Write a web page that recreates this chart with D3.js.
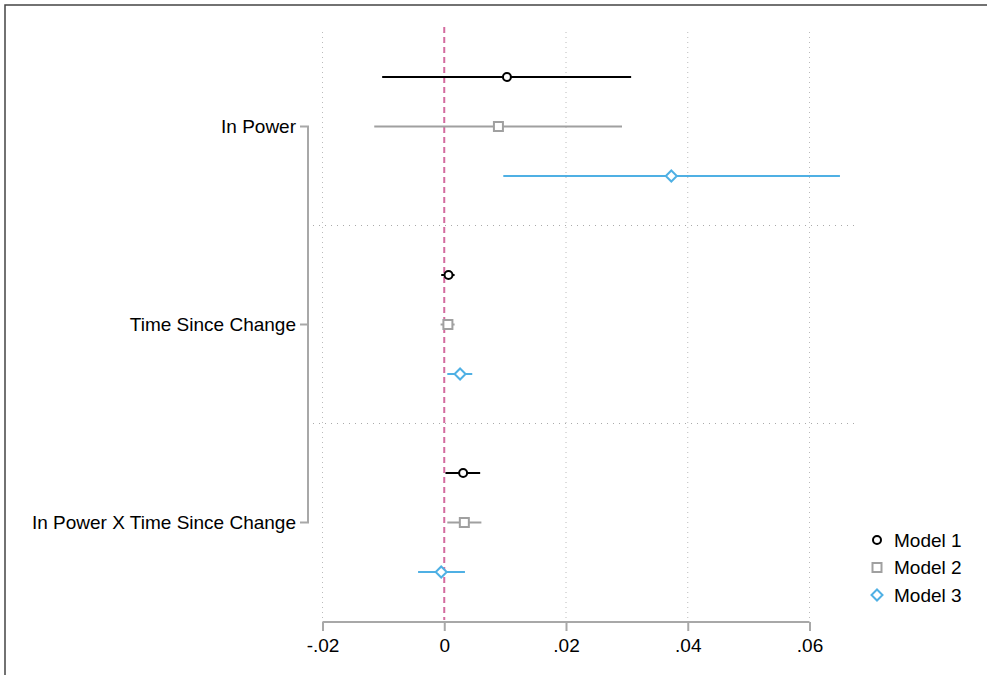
<!DOCTYPE html>
<html><head><meta charset="utf-8">
<script src="https://cdn.jsdelivr.net/npm/d3@7"></script>
<style>body{margin:0;background:#fff}svg{display:block;font-family:"Liberation Sans",Arial,sans-serif}</style>
</head><body><svg id="c" width="987" height="675"></svg>
<script>
const groups = ["In Power", "Time Since Change", "In Power X Time Since Change"];
const models = ["Model 1", "Model 2", "Model 3"];
const modelColors = ["#000000", "#a0a0a0", "#4fb0e4"];
const modelShapes = ["circle", "square", "diamond"];
// estimates [group][model]
const est = [[0.0103, 0.0089, 0.0373], [0.0007, 0.0006, 0.0026], [0.0031, 0.0033, -0.0005]];
const lo  = [[-0.0102, -0.0115, 0.0097], [-0.0005, -0.0006, 0.0005], [0.0002, 0.0005, -0.0043]];
const hi  = [[0.0307, 0.0292, 0.0650], [0.0017, 0.0017, 0.0046], [0.0059, 0.0061, 0.0034]];
const xTicks = [-0.02, 0, 0.02, 0.04, 0.06];
const xTickLabels = ["-.02", "0", ".02", ".04", ".06"];

const FS = 19;
const svg = d3.select("#c");
// partial frame (top & left)
svg.append("path").attr("d","M5,675V5H987").attr("fill","none").attr("stroke","#444").attr("stroke-width",1.5);

const x = d3.scaleLinear().domain([-0.02, 0.06]).range([322.5, 809.5]);
// 11 slots: 3 rows per group with an empty slot between groups
const slot = (gi, mi) => gi*4 + mi;
const y = d3.scalePoint().domain(d3.range(11)).range([77, 572]);

// vertical gridlines
svg.append("g").selectAll("line").data(xTicks).join("line")
  .attr("x1",d=>x(d)).attr("x2",d=>x(d)).attr("y1",32).attr("y2",620)
  .attr("stroke","#bbb").attr("stroke-width",1).attr("stroke-dasharray","1,4");
// horizontal separators
svg.append("g").selectAll("line").data([3,7]).join("line")
  .attr("x1",313).attr("x2",855)
  .attr("y1",d=>y(d)).attr("y2",d=>y(d))
  .attr("stroke","#aaa").attr("stroke-width",1).attr("stroke-dasharray","1,5");
// zero line
svg.append("line").attr("x1",x(0)).attr("x2",x(0)).attr("y1",27).attr("y2",620)
  .attr("stroke","#d36b9f").attr("stroke-width",2).attr("stroke-dasharray","6,4");

// x axis
const ax = svg.append("g").attr("transform","translate(0,622)")
  .call(d3.axisBottom(x).tickValues(xTicks).tickFormat((d,i)=>xTickLabels[i]).tickSize(9).tickPadding(8));
ax.select(".domain").attr("stroke","#a8a8a8").attr("stroke-width",2).attr("d",`M${x(-0.02)},0H${x(0.06)}`);
ax.selectAll(".tick line").attr("stroke","#a8a8a8").attr("stroke-width",2);
ax.selectAll(".tick text").attr("font-size",FS).attr("fill","#000").attr("font-family","Liberation Sans, Arial, sans-serif");

// bracket
const bx = 308;
const gy = groups.map((g,gi)=>y(slot(gi,1)));
svg.append("path").attr("d",`M300,${gy[0]}H${bx}V${gy[2]}H300M300,${gy[1]}H${bx}`)
  .attr("fill","none").attr("stroke","#a8a8a8").attr("stroke-width",2);
svg.append("g").selectAll("text").data(groups).join("text")
  .attr("x",296).attr("y",(d,i)=>gy[i]).attr("dy","0.36em").attr("text-anchor","end")
  .attr("font-size",FS).attr("fill","#000").text(d=>d);

function marker(sel, shape, color){
  if(shape==="circle") sel.append("circle").attr("r",4).attr("fill","#fff").attr("stroke",color).attr("stroke-width",2);
  else if(shape==="square") sel.append("rect").attr("x",-4.5).attr("y",-4.5).attr("width",9).attr("height",9).attr("fill","#fff").attr("stroke",color).attr("stroke-width",2);
  else sel.append("path").attr("d","M0,-5.5L5.5,0L0,5.5L-5.5,0Z").attr("fill","#fff").attr("stroke",color).attr("stroke-width",2);
}

groups.forEach((g,gi)=>models.forEach((m,mi)=>{
  const yy = y(slot(gi,mi));
  svg.append("line").attr("x1",x(lo[gi][mi])).attr("x2",x(hi[gi][mi])).attr("y1",yy).attr("y2",yy)
    .attr("stroke",modelColors[mi]).attr("stroke-width",2);
  const gm = svg.append("g").attr("transform",`translate(${x(est[gi][mi])},${yy})`);
  marker(gm, modelShapes[mi], modelColors[mi]);
}));

// legend
const lg = svg.append("g");
models.forEach((m,mi)=>{
  const ly = 540 + mi*27.5;
  const gm = lg.append("g").attr("transform",`translate(877,${ly})`);
  marker(gm, modelShapes[mi], modelColors[mi]);
  lg.append("text").attr("x",894).attr("y",ly).attr("dy","0.36em").attr("font-size",FS).attr("fill","#000").text(m);
});
</script></body></html>
